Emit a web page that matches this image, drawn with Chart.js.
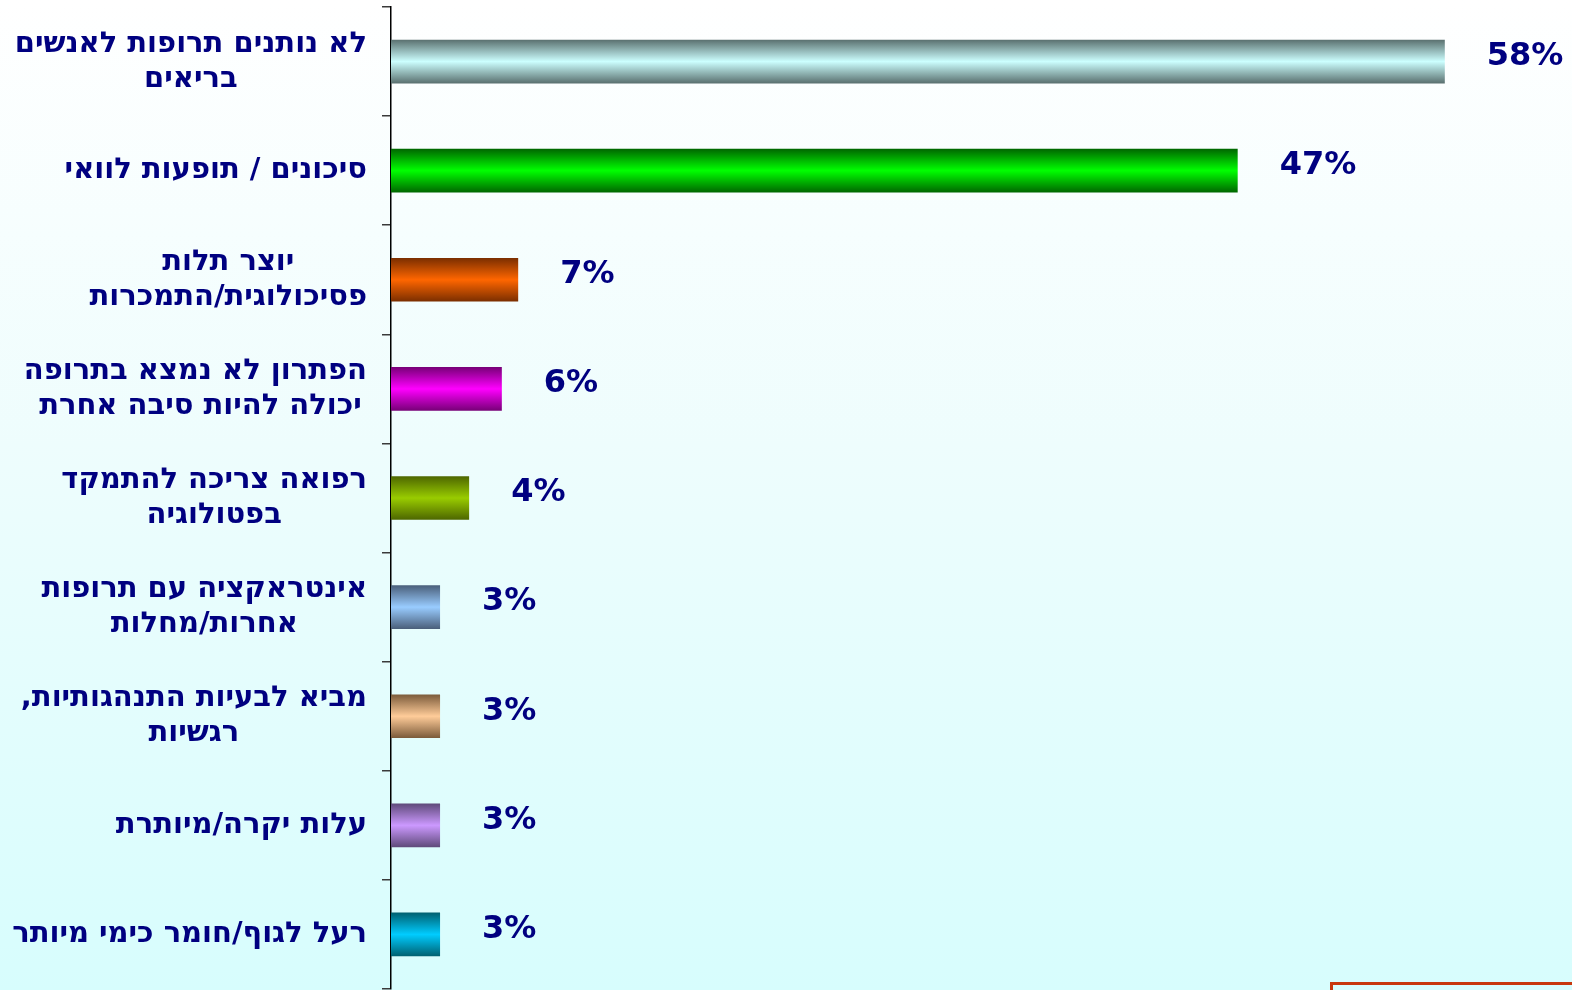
<!DOCTYPE html>
<html lang="he">
<head>
<meta charset="utf-8">
<title>סיבות</title>
<script src="https://cdn.jsdelivr.net/npm/chart.js@4.4.1/dist/chart.umd.min.js"></script>
<style>
    html, body {
        margin: 0;
        padding: 0;
        overflow: hidden;
    }
    body {
        width: 1572px;
        height: 990px;
        background: linear-gradient(to bottom, #ffffff 0%, #eefdfd 45%, #d7fdfd 100%);
        position: relative;
    }
    #wrap {
        position: absolute;
        left: 0;
        top: 0;
        width: 1572px;
        height: 990px;
    }
    .frame {
        position: absolute;
        left: 1330px;
        top: 982px;
        width: 400px;
        height: 60px;
        border: 3px solid #c8380e;
        box-sizing: border-box;
    }
</style>
</head>
<body>
<div id="wrap"><canvas id="reasonsChart"></canvas></div>
<div class="frame"></div>
<script>
// categories (each entry is the lines of one label)
const categories = [
    ['לא נותנים תרופות לאנשים', 'בריאים'],
    ['סיכונים / תופעות לוואי'],
    ['יוצר תלות', 'פסיכולוגית/התמכרות'],
    ['הפתרון לא נמצא בתרופה', 'יכולה להיות סיבה אחרת '],
    ['רפואה צריכה להתמקד', 'בפטולוגיה'],
    ['אינטראקציה עם תרופות', 'אחרות/מחלות'],
    ['מביא לבעיות התנהגותיות,', 'רגשיות'],
    ['עלות יקרה/מיותרת'],
    ['רעל לגוף/חומר כימי מיותר']
];

// bar lengths
const values = [58, 46.6, 7.0, 6.1, 4.3, 2.7, 2.7, 2.7, 2.7];

// value labels printed next to the bars
const valueLabels = ['58%', '47%', '7%', '6%', '4%', '3%', '3%', '3%', '3%'];

// cylinder shading: [edge, centre]
const barColors = [
    ['#5a706f', '#ccffff'],
    ['#006600', '#00ff00'],
    ['#7a2e00', '#ff6600'],
    ['#770077', '#ff00ff'],
    ['#4d6600', '#99cc00'],
    ['#4a5f7a', '#99ccff'],
    ['#7a5a3a', '#ffcc99'],
    ['#5f4a7a', '#cc99ff'],
    ['#006070', '#00ccff']
];

const NAVY = '#000080';
const BAR_SHARE = 0.4;

function cylinder(context) {
    const chart = context.chart;
    const pair = barColors[context.dataIndex] || barColors[0];
    const yScale = chart.scales.y;
    if (!yScale || !chart.chartArea) return pair[1];
    const center = yScale.getPixelForValue(context.dataIndex);
    const half = (yScale.height / categories.length) * BAR_SHARE / 2;
    const g = chart.ctx.createLinearGradient(0, center - half, 0, center + half);
    g.addColorStop(0, pair[0]);
    g.addColorStop(0.5, pair[1]);
    g.addColorStop(1, pair[0]);
    return g;
}

// category labels: each block right-aligned, lines centred inside the block
const categoryLabels = {
    id: 'categoryLabels',
    afterDraw(chart) {
        const ctx = chart.ctx;
        const yScale = chart.scales.y;
        const right = 367;
        const lineH = 35;
        ctx.save();
        ctx.font = 'bold 29px "DejaVu Sans"';
        ctx.fillStyle = NAVY;
        ctx.direction = 'rtl';
        ctx.textAlign = 'center';
        ctx.textBaseline = 'middle';
        categories.forEach((lines, i) => {
            const cy = yScale.getPixelForValue(i);
            const w = Math.max(...lines.map(l => ctx.measureText(l.trim()).width));
            const cx = right - w / 2;
            const top = cy - (lines.length - 1) * lineH / 2;
            lines.forEach((line, j) => {
                ctx.fillText(line, cx, top + j * lineH);
            });
        });
        ctx.restore();
    }
};

// percentages to the right of each bar
const valueTags = {
    id: 'valueTags',
    afterDatasetsDraw(chart) {
        const ctx = chart.ctx;
        const meta = chart.getDatasetMeta(0);
        ctx.save();
        ctx.font = 'bold 32px "DejaVu Sans"';
        ctx.fillStyle = NAVY;
        ctx.textAlign = 'left';
        ctx.textBaseline = 'middle';
        meta.data.forEach((bar, i) => {
            ctx.fillText(valueLabels[i], bar.x + 42, bar.y - 5);
        });
        ctx.restore();
    }
};

new Chart(document.getElementById('reasonsChart'), {
    type: 'bar',
    data: {
        labels: categories,
        datasets: [{
            data: values,
            backgroundColor: cylinder,
            borderWidth: 0,
            categoryPercentage: 1,
            barPercentage: BAR_SHARE
        }]
    },
    options: {
        indexAxis: 'y',
        responsive: true,
        maintainAspectRatio: false,
        animation: false,
        layout: { padding: { top: 7, bottom: 1, left: 0, right: 0 } },
        scales: {
            x: {
                display: false,
                min: 0,
                max: 65
            },
            y: {
                offset: true,
                afterFit: scale => { scale.width = 391; },
                grid: {
                    offset: true,
                    drawOnChartArea: false,
                    drawTicks: true,
                    tickLength: 9,
                    color: '#3a3a3a',
                    lineWidth: 1.5
                },
                border: { display: true, color: '#000000', width: 1.5 },
                ticks: { display: false }
            }
        },
        plugins: {
            legend: { display: false },
            tooltip: { enabled: false }
        }
    },
    plugins: [categoryLabels, valueTags]
});
</script>
</body>
</html>
